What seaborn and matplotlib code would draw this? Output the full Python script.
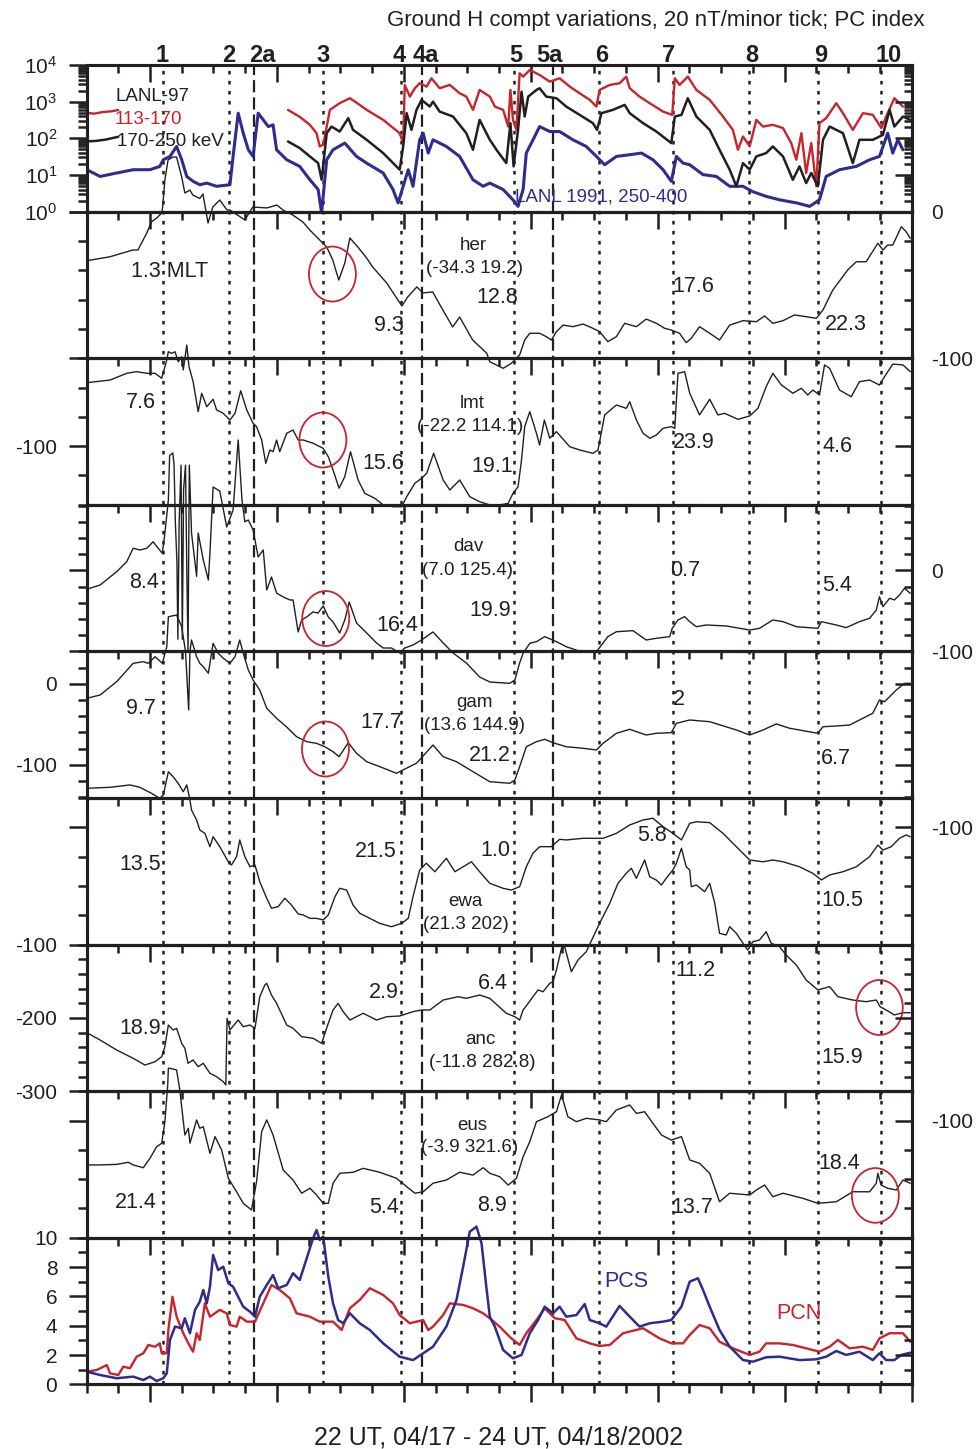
import matplotlib
matplotlib.use("Agg")
import matplotlib.pyplot as plt
from matplotlib.patches import Ellipse
from matplotlib.ticker import MultipleLocator, LogLocator, NullFormatter, FixedLocator
import numpy as np
import seaborn as sns

# ------------------------------------------------------------------
# Time axis: hours after 22 UT on 04/17/2002 (ends 24 UT on 04/18)
# ------------------------------------------------------------------
T_START, T_END = 0.0, 26.0

event_names = ["1", "2", "2a", "3", "4", "4a", "5", "5a", "6", "7", "8", "9", "10"]
event_times = [2.40, 4.50, 5.29, 7.44, 9.92, 10.57, 13.48, 14.70, 16.14, 18.48, 20.89, 23.06, 25.03]
event_label_times = [2.39, 4.47, 5.54, 7.46, 9.86, 10.69, 13.53, 14.60, 16.24, 18.35, 20.98, 23.13, 25.29]

# ------------------------------------------------------------------
# Energetic particle fluxes (LANL), (hours, flux)
# ------------------------------------------------------------------
lanl97_113_170_a = [(0.0, 494), (0.25, 470), (0.5, 520), (0.75, 540), (1.0, 590)]
lanl97_113_170 = [
    (6.35, 597), (6.72, 385), (7.04, 233), (7.25, 138), (7.35, 60), (7.46, 67), (7.57, 209), (7.67, 597),
    (7.98, 907), (8.30, 1241), (8.46, 1003), (8.83, 597), (9.35, 318), (9.87, 138), (9.98, 74), (10.03, 2860),
    (10.19, 1372), (10.35, 2323), (10.50, 3176), (10.72, 2570), (10.87, 4345), (11.13, 2323), (11.45, 2860),
    (11.76, 1698), (11.97, 1372), (12.18, 597), (12.39, 2089), (12.71, 1372), (12.87, 733), (13.13, 597),
    (13.29, 209), (13.36, 2089), (13.44, 318), (13.55, 170), (13.65, 5943), (13.76, 4808), (13.97, 7311),
    (14.28, 5346), (14.60, 3516), (14.91, 4345), (15.23, 2570), (15.54, 1698), (15.86, 1117), (16.07, 733),
    (16.17, 2089), (16.49, 2860), (16.80, 3176), (17.01, 4808), (17.12, 2323), (17.43, 1372), (17.75, 907),
    (18.17, 535), (18.46, 436), (18.54, 4345), (18.69, 2860), (18.95, 4808), (19.22, 2089), (19.64, 1117),
    (20.06, 392), (20.37, 170), (20.53, 48.6), (20.69, 112), (20.90, 60), (21.11, 318), (21.32, 209),
    (21.63, 233), (21.95, 190), (22.21, 74), (22.37, 26), (22.53, 138), (22.68, 11.3), (22.84, 74),
    (23.00, 4.9), (23.10, 259), (23.31, 355), (23.63, 907), (23.84, 485), (24.15, 170), (24.47, 485),
    (24.78, 436), (25.05, 190), (25.25, 485), (25.46, 1241), (25.73, 733),
]
lanl97_170_250_a = [(0.0, 82), (0.3, 85), (0.6, 92), (1.0, 110)]
lanl97_170_250 = [
    (6.35, 82), (6.72, 54), (7.04, 32), (7.30, 21), (7.41, 7.4), (7.57, 138), (7.72, 209), (7.98, 153),
    (8.25, 355), (8.40, 170), (8.83, 91), (9.35, 39.5), (9.87, 13.9), (9.98, 60), (10.09, 485), (10.24, 170),
    (10.40, 597), (10.56, 1117), (10.82, 733), (10.92, 1003), (11.13, 535), (11.55, 392), (11.97, 138),
    (12.18, 48.6), (12.39, 318), (12.71, 91), (12.92, 48.6), (13.23, 21), (13.36, 259), (13.46, 17.1),
    (13.60, 170), (13.71, 1877), (13.81, 392), (13.92, 1372), (14.18, 2089), (14.28, 2323), (14.49, 1372),
    (14.81, 1241), (15.12, 733), (15.54, 436), (15.96, 259), (16.09, 170), (16.23, 485), (16.59, 597),
    (16.96, 817), (17.12, 485), (17.54, 259), (17.96, 153), (18.43, 74), (18.54, 392), (18.75, 436),
    (18.95, 1241), (19.22, 392), (19.64, 170), (19.95, 48.6), (20.27, 13.9), (20.48, 4.9), (20.69, 21),
    (20.90, 13.9), (21.11, 32), (21.42, 39.5), (21.63, 60), (21.95, 32), (22.26, 7.4), (22.47, 17.1),
    (22.68, 6.0), (22.84, 11.3), (23.05, 4.9), (23.21, 91), (23.42, 209), (23.84, 138), (24.15, 21),
    (24.36, 91), (24.78, 91), (25.10, 124), (25.31, 597), (25.46, 209), (25.73, 392), (25.96, 318),
]
lanl91_250_400 = [
    (0.01, 13.9), (0.43, 9.1), (0.95, 11.3), (1.47, 13.9), (2.00, 13.9), (2.31, 17.1), (2.42, 26), (2.63, 32),
    (2.84, 60), (3.00, 26), (3.16, 9.1), (3.36, 6.7), (3.57, 5.4), (3.79, 6.0), (4.10, 4.9), (4.52, 5.4),
    (4.62, 32), (4.78, 485), (4.94, 138), (5.10, 48.6), (5.25, 32), (5.41, 485), (5.57, 318), (5.73, 209),
    (5.88, 233), (5.99, 48.6), (6.31, 26), (6.72, 17.1), (7.04, 7.4), (7.30, 4.0), (7.41, 0.92), (7.57, 26),
    (7.77, 48.6), (8.14, 74), (8.51, 32), (8.83, 21), (9.35, 11.3), (9.66, 4.0), (9.82, 1.73), (9.98, 4.9),
    (10.14, 13.9), (10.29, 4.9), (10.50, 91), (10.61, 138), (10.77, 39.5), (10.92, 91), (11.34, 60),
    (11.76, 32), (12.18, 7.4), (12.50, 4.9), (12.71, 6.0), (13.13, 4.0), (13.44, 2.1), (13.60, 1.39),
    (13.76, 4.0), (13.86, 39.5), (14.02, 74), (14.28, 209), (14.60, 153), (14.91, 153), (15.33, 91),
    (15.75, 60), (16.07, 32), (16.33, 19), (16.70, 32), (17.12, 35.6), (17.49, 39.5), (17.85, 26),
    (18.17, 13.9), (18.43, 6.7), (18.59, 32), (18.80, 21), (19.01, 19), (19.43, 10.2), (19.85, 9.1),
    (20.27, 4.9), (20.69, 4.9), (21.00, 3.5), (21.42, 2.6), (21.84, 2.1), (22.37, 1.73), (22.79, 1.39),
    (23.10, 2.1), (23.31, 9.1), (23.73, 13.9), (24.26, 17.1), (24.68, 26), (24.99, 32), (25.25, 138),
    (25.41, 39.5), (25.57, 91), (25.73, 48.6),
]

# ------------------------------------------------------------------
# Ground magnetometer H-component variations (hours, nT)
# ------------------------------------------------------------------
her = [
    (0.01, -33.5), (0.74, -30.8), (1.46, -26.2), (1.62, -26.2), (1.90, -14.6), (2.05, -6.9), (2.21, -4.4),
    (2.37, -1.0), (2.40, 3.1), (2.47, 21.6), (2.57, 35.2), (2.72, 37.2), (2.84, 37.2), (3.00, 23.6),
    (3.10, 12.7), (3.26, 14.7), (3.35, 11.3), (3.57, 9.0), (3.67, 12.0), (3.83, -7.8), (3.98, 3.1),
    (4.20, 7.9), (4.43, 1.1), (4.52, 1.1), (4.99, -5.7), (5.24, 3.1), (5.69, 2.5), (6.00, 4.5), (6.19, 1.1),
    (6.50, -2.3), (6.82, -7.1), (7.04, -12.6), (7.35, -19.4), (7.57, -24.1), (7.76, -33.0), (7.95, -46.7),
    (8.14, -35.1), (8.30, -18.0), (8.55, -24.1), (8.83, -31.7), (9.02, -37.8), (9.46, -48.7), (9.94, -64.4),
    (10.12, -58.3), (10.41, -51.4), (10.60, -55.5), (10.91, -54.8), (11.23, -67.1), (11.54, -78.7),
    (11.76, -71.9), (12.17, -87.6), (12.61, -96.5), (12.71, -102.4), (13.13, -106.9), (13.39, -103.5),
    (13.65, -97.8), (13.81, -87.6), (13.97, -83.0), (14.28, -83.0), (14.49, -85.3), (14.65, -87.6),
    (14.81, -81.9), (15.02, -77.4), (15.33, -78.5), (15.65, -76.7), (15.96, -79.6), (16.17, -81.9),
    (16.43, -88.7), (16.70, -85.3), (16.96, -76.2), (17.33, -78.5), (17.64, -73.3), (17.96, -76.2),
    (18.22, -79.6), (18.43, -80.8), (18.69, -83.0), (18.90, -89.4), (19.06, -86.4), (19.32, -78.5),
    (19.64, -83.0), (19.95, -87.6), (20.27, -77.4), (20.69, -74.4), (21.11, -75.1), (21.37, -71.2),
    (21.63, -76.2), (21.95, -74.4), (22.31, -70.5), (22.68, -71.7), (23.00, -72.8), (23.21, -67.1),
    (23.52, -53.5), (23.99, -39.8), (24.26, -34.2), (24.57, -34.2), (24.94, -21.6), (25.10, -26.2),
    (25.25, -22.8), (25.41, -22.8), (25.68, -10.3), (25.83, -13.7), (25.96, -18.2),
]
lmt = [
    (0.01, -56.7), (0.74, -54.9), (1.27, -50.3), (1.58, -49.2), (1.90, -50.3), (2.16, -50.3), (2.37, -53.7),
    (2.53, -41.2), (2.58, -35.6), (2.68, -36.7), (2.79, -35.6), (2.89, -42.4), (3.00, -39.0), (3.05, -48.0),
    (3.16, -31.0), (3.23, -45.8), (3.36, -56.0), (3.52, -76.5), (3.63, -63.9), (3.79, -73.1), (3.99, -68.0),
    (4.10, -75.3), (4.31, -77.6), (4.52, -82.2), (4.68, -77.6), (4.86, -62.2), (5.05, -75.3), (5.25, -84.4),
    (5.36, -86.7), (5.52, -95.8), (5.65, -111.7), (5.78, -102.6), (5.88, -103.8), (5.99, -95.8),
    (6.09, -103.8), (6.31, -91.2), (6.51, -89.0), (6.67, -95.8), (6.83, -95.8), (7.14, -98.0),
    (7.46, -101.5), (7.62, -107.2), (7.77, -116.3), (7.96, -128.7), (8.14, -120.8), (8.32, -103.8),
    (8.56, -123.1), (8.77, -132.2), (9.09, -135.6), (9.35, -140.1), (9.66, -141.3), (9.93, -141.3),
    (10.09, -134.5), (10.35, -125.3), (10.56, -121.9), (10.72, -118.5), (10.94, -104.9), (11.24, -123.1),
    (11.45, -129.9), (11.76, -123.1), (12.08, -134.5), (12.39, -137.9), (12.71, -140.1), (13.02, -140.1),
    (13.29, -139.0), (13.44, -132.2), (13.60, -127.7), (13.71, -109.4), (13.81, -86.7), (13.97, -76.5),
    (14.18, -91.2), (14.28, -99.2), (14.43, -82.2), (14.60, -94.6), (14.81, -90.1), (15.23, -100.4),
    (15.54, -102.6), (15.96, -104.9), (16.12, -102.6), (16.33, -78.7), (16.70, -71.9), (17.01, -74.2),
    (17.12, -69.7), (17.33, -82.2), (17.54, -91.2), (17.75, -94.6), (17.96, -92.4), (18.17, -87.8),
    (18.43, -86.7), (18.54, -87.8), (18.64, -50.3), (18.85, -49.2), (19.01, -63.9), (19.32, -78.7),
    (19.64, -68.0), (19.90, -78.7), (20.11, -77.6), (20.53, -81.7), (20.90, -79.4), (21.16, -74.2),
    (21.42, -59.4), (21.63, -50.3), (21.90, -58.3), (22.26, -63.9), (22.53, -60.5), (22.73, -65.1),
    (22.89, -61.7), (23.10, -65.1), (23.26, -44.6), (23.42, -46.9), (23.73, -61.7), (24.10, -66.3),
    (24.36, -56.0), (24.68, -54.9), (24.99, -58.3), (25.15, -52.6), (25.41, -44.0), (25.73, -44.6),
    (25.96, -49.2),
]
dav = [
    (0.01, -23.3), (0.43, -18.0), (0.95, -1.6), (1.27, 10.8), (1.47, 27.3), (1.69, 25.2), (1.90, 27.3),
    (2.10, 35.4), (2.26, 27.3), (2.39, 21.1), (2.47, 45.8), (2.58, 86.9), (2.62, 142.0), (2.72, 145.0),
    (2.76, 130.0), (2.80, 60.0), (2.85, 10.0), (2.88, -85.0), (2.92, 60.0), (2.98, 130.0), (3.02, -85.0),
    (3.06, 100.0), (3.12, 130.0), (3.16, 3.5), (3.20, -98.0), (3.24, 130.0), (3.31, 46.2), (3.47, -7.3),
    (3.52, 46.2), (3.68, 12.9), (3.84, -11.8), (3.89, 21.5), (3.99, 103.0), (4.20, 98.0), (4.42, 53.6),
    (4.62, 74.6), (4.78, 161.0), (4.90, 86.9), (4.99, 60.0), (5.10, 62.2), (5.25, 49.9), (5.41, 16.6),
    (5.57, 25.2), (5.68, -24.2), (5.83, -8.1), (5.99, -27.9), (6.20, -32.8), (6.41, -36.5), (6.51, -36.5),
    (6.67, -76.0), (6.78, -61.2), (6.94, -57.5), (7.14, -51.3), (7.30, -52.6), (7.46, -43.9), (7.62, -57.5),
    (7.77, -63.7), (7.98, -77.3), (8.14, -61.2), (8.28, -39.0), (8.51, -64.9), (8.83, -77.3), (9.14, -89.6),
    (9.35, -95.8), (9.61, -95.8), (9.87, -101.9), (10.03, -95.8), (10.29, -92.1), (10.56, -85.9),
    (10.92, -76.0), (11.24, -89.6), (11.55, -101.9), (11.97, -114.3), (12.39, -131.6), (12.71, -137.8),
    (13.34, -139.4), (13.50, -135.3), (13.65, -114.3), (13.76, -102.3), (13.97, -90.0), (14.18, -88.0),
    (14.44, -81.8), (14.81, -88.0), (15.12, -94.2), (15.49, -99.1), (16.07, -100.4), (16.43, -81.8),
    (16.70, -75.7), (17.22, -74.4), (17.64, -85.9), (17.96, -83.8), (18.38, -81.8), (18.46, -71.5),
    (18.64, -61.2), (18.85, -57.1), (19.01, -63.3), (19.22, -69.5), (19.53, -67.4), (20.16, -68.6),
    (20.90, -73.6), (21.21, -71.5), (21.63, -61.2), (21.95, -63.3), (22.37, -69.5), (23.05, -71.5),
    (23.16, -63.3), (23.63, -67.4), (23.94, -70.7), (24.36, -63.3), (24.68, -59.1), (24.89, -48.9),
    (24.99, -32.5), (25.10, -44.8), (25.31, -34.4), (25.46, -36.5), (25.62, -30.4), (25.78, -22.1),
    (25.96, -28.3),
]
gam = [
    (0.01, -17.9), (0.43, -13.8), (0.95, 2.6), (1.47, 25.3), (1.79, 27.3), (1.95, 25.3), (2.16, 33.5),
    (2.39, 25.3), (2.53, 45.8), (2.58, 82.8), (2.84, 84.9), (3.00, 70.5), (3.12, 40.0), (3.22, -32.3),
    (3.26, 40.0), (3.31, 54.1), (3.47, 33.5), (3.57, 25.3), (3.68, 21.1), (3.84, 13.0), (3.99, 50.0),
    (4.15, 37.7), (4.31, 31.5), (4.52, 25.3), (4.68, 33.5), (4.83, 54.1), (4.94, 37.7), (5.10, 17.0),
    (5.25, 4.7), (5.46, -7.7), (5.68, -30.2), (5.99, -42.6), (6.30, -53.0), (6.62, -65.3), (6.94, -71.5),
    (7.25, -73.5), (7.51, -77.7), (7.77, -83.8), (7.96, -90.0), (8.25, -72.7), (8.51, -85.8), (8.83, -96.2),
    (9.24, -102.3), (9.77, -110.5), (10.08, -104.3), (10.40, -98.1), (10.92, -75.6), (11.24, -90.0),
    (11.66, -96.2), (12.18, -108.5), (12.71, -120.9), (13.34, -122.8), (13.50, -118.8), (13.65, -102.3),
    (13.86, -77.7), (14.18, -71.5), (14.44, -68.5), (14.70, -72.7), (15.12, -77.7), (15.65, -79.6),
    (16.07, -81.7), (16.28, -73.5), (16.70, -61.1), (17.12, -56.2), (17.64, -63.2), (17.96, -61.1),
    (18.43, -60.4), (18.59, -48.8), (19.01, -44.7), (19.64, -46.8), (20.48, -57.0), (20.90, -63.2),
    (21.32, -57.0), (21.74, -49.6), (22.16, -54.9), (23.05, -61.1), (23.21, -53.0), (23.63, -52.1),
    (24.05, -50.9), (24.36, -44.7), (24.78, -36.4), (24.99, -20.0), (25.15, -22.1), (25.31, -15.9),
    (25.52, -7.7), (25.78, 0.6), (25.96, 0.6),
]
ewa = [
    (0.01, -73.4), (0.74, -72.7), (1.37, -71.1), (1.68, -72.7), (2.05, -76.8), (2.31, -80.2), (2.42, -78.0),
    (2.58, -62.1), (2.73, -65.5), (2.89, -70.0), (3.05, -75.7), (3.16, -71.1), (3.26, -81.4), (3.31, -88.2),
    (3.47, -95.0), (3.57, -101.8), (3.73, -104.1), (3.89, -113.2), (3.99, -106.4), (4.20, -113.2),
    (4.47, -123.5), (4.57, -125.7), (4.73, -120.0), (4.83, -108.6), (4.99, -120.0), (5.15, -126.9),
    (5.31, -125.7), (5.46, -137.1), (5.68, -148.4), (5.83, -155.2), (6.04, -154.1), (6.25, -148.4),
    (6.46, -153.0), (6.67, -159.1), (6.83, -159.8), (7.04, -162.1), (7.25, -162.1), (7.46, -163.2),
    (7.62, -159.8), (7.83, -147.3), (7.98, -141.6), (8.20, -142.8), (8.40, -153.0), (8.61, -158.6),
    (8.93, -162.1), (9.24, -165.5), (9.61, -167.8), (9.93, -165.5), (10.14, -162.1), (10.29, -147.3),
    (10.50, -129.1), (10.71, -124.5), (10.98, -130.3), (11.34, -121.1), (11.61, -130.3), (12.13, -123.5),
    (12.39, -130.3), (12.71, -138.2), (13.13, -141.6), (13.39, -142.8), (13.65, -140.5), (13.86, -126.9),
    (14.07, -117.7), (14.28, -113.2), (14.65, -113.2), (14.91, -108.2), (15.12, -108.6), (15.65, -107.5),
    (16.28, -107.5), (16.70, -104.1), (17.12, -98.4), (17.54, -95.0), (17.85, -93.8), (18.17, -99.6),
    (18.48, -104.1), (18.75, -108.6), (19.01, -97.3), (19.22, -96.2), (19.64, -96.8), (20.06, -104.1),
    (20.48, -113.2), (20.90, -122.3), (21.32, -123.5), (21.63, -122.3), (21.95, -123.5), (22.47, -126.9),
    (22.89, -131.4), (23.16, -135.9), (23.42, -132.5), (23.84, -130.3), (24.26, -126.9), (24.68, -120.0),
    (24.94, -112.1), (25.10, -115.5), (25.36, -113.2), (25.62, -107.5), (25.83, -105.2), (25.96, -106.4),
]
anc = [
    (0.01, -220.2), (0.43, -230.2), (0.95, -243.8), (1.47, -255.1), (1.84, -264.3), (2.16, -259.8),
    (2.37, -252.9), (2.47, -239.3), (2.58, -209.7), (2.73, -216.5), (2.84, -214.2), (3.00, -234.7),
    (3.10, -241.5), (3.20, -261.9), (3.36, -257.4), (3.52, -266.6), (3.68, -261.9), (3.89, -275.6),
    (4.10, -280.2), (4.31, -287.0), (4.39, -291.5), (4.43, -200.5), (4.52, -216.5), (4.78, -202.9),
    (4.94, -212.0), (5.15, -209.7), (5.31, -214.2), (5.46, -171.1), (5.62, -155.1), (5.68, -152.8),
    (5.83, -168.8), (5.99, -180.1), (6.31, -209.7), (6.51, -214.2), (6.78, -225.6), (7.14, -227.8),
    (7.41, -234.7), (7.62, -207.4), (7.77, -189.2), (7.93, -180.1), (8.09, -191.5), (8.30, -202.9),
    (8.72, -193.7), (9.14, -202.9), (9.46, -198.4), (9.87, -197.4), (10.29, -191.5), (10.56, -189.2),
    (10.82, -189.2), (11.24, -175.6), (11.71, -171.1), (11.97, -173.3), (12.39, -168.8), (12.71, -173.3),
    (13.23, -193.7), (13.50, -198.4), (13.65, -202.9), (13.76, -189.2), (13.92, -180.1), (14.07, -171.1),
    (14.23, -161.9), (14.39, -164.3), (14.60, -152.8), (14.70, -150.6), (14.81, -134.7), (14.97, -105.0),
    (15.07, -102.9), (15.28, -137.0), (15.49, -121.0), (15.75, -109.7), (16.17, -70.9), (16.49, -43.7),
    (16.75, -16.4), (17.01, -2.7), (17.17, 4.1), (17.33, -9.5), (17.59, 15.4), (17.75, -7.4),
    (17.96, -12.0), (18.12, -18.7), (18.27, -9.5), (18.48, 1.8), (18.59, 10.9), (18.75, 31.4), (18.90, 6.3),
    (19.01, 1.8), (19.06, -21.0), (19.22, -18.7), (19.48, -27.8), (19.64, -16.4), (19.80, -43.7),
    (19.95, -84.6), (20.16, -86.9), (20.27, -75.6), (20.48, -84.6), (20.69, -98.2), (20.84, -107.4),
    (21.00, -96.0), (21.21, -93.7), (21.42, -82.4), (21.58, -98.2), (21.84, -102.9), (22.05, -114.2),
    (22.37, -127.8), (22.68, -148.3), (23.05, -161.9), (23.42, -157.4), (23.68, -171.1), (24.15, -175.6),
    (24.57, -177.9), (24.89, -175.6), (25.01, -184.7), (25.20, -189.2), (25.46, -196.0), (25.73, -192.9),
    (25.96, -192.9),
]
eus = [
    (0.01, -130.3), (0.43, -130.3), (0.95, -129.9), (1.32, -128.5), (1.47, -130.3), (1.79, -132.2),
    (2.00, -125.8), (2.21, -117.9), (2.37, -115.5), (2.47, -100.8), (2.56, -75.8), (2.58, -64.4),
    (2.63, -64.4), (2.84, -65.5), (2.94, -79.2), (3.10, -109.9), (3.21, -105.3), (3.26, -115.5),
    (3.47, -99.6), (3.57, -105.3), (3.68, -104.2), (3.89, -122.4), (4.05, -111.0), (4.26, -120.1),
    (4.47, -139.4), (4.73, -148.6), (4.94, -156.5), (5.20, -161.0), (5.36, -141.7), (5.52, -107.6),
    (5.68, -99.6), (5.88, -109.9), (6.20, -133.8), (6.51, -140.6), (6.78, -149.6), (7.04, -146.2),
    (7.25, -150.8), (7.46, -156.5), (7.62, -156.5), (7.77, -142.8), (7.98, -136.0), (8.40, -135.3),
    (8.72, -132.6), (9.24, -135.3), (9.77, -139.4), (10.09, -145.1), (10.35, -149.6), (10.61, -148.6),
    (10.92, -142.8), (11.34, -140.6), (11.76, -135.3), (12.18, -137.2), (12.50, -132.2), (12.71, -136.0),
    (13.02, -138.3), (13.29, -144.0), (13.55, -139.4), (13.76, -124.7), (13.97, -114.4), (14.18, -100.8),
    (14.54, -97.4), (14.81, -94.0), (14.97, -82.6), (15.17, -97.4), (15.44, -100.8), (15.75, -98.5),
    (16.17, -99.6), (16.38, -100.8), (16.70, -92.8), (17.12, -89.4), (17.33, -95.1), (17.59, -94.0),
    (17.85, -101.9), (18.12, -109.9), (18.43, -113.3), (18.75, -111.0), (19.01, -126.9), (19.32, -129.2),
    (19.64, -136.0), (19.95, -155.4), (20.27, -149.6), (20.90, -150.8), (21.11, -147.4), (21.37, -144.0),
    (21.63, -152.0), (21.95, -149.6), (22.58, -153.1), (23.05, -156.5), (23.63, -155.4), (24.15, -148.6),
    (24.68, -148.6), (24.89, -142.8), (24.94, -136.0), (25.04, -144.0), (25.25, -146.2), (25.52, -147.4),
    (25.73, -140.6), (25.96, -142.8),
]

# ------------------------------------------------------------------
# Polar cap indices (hours, index)
# ------------------------------------------------------------------
pcn = [
    (0.01, 0.87), (0.32, 0.98), (0.64, 1.32), (0.74, 0.76), (1.00, 0.64), (1.16, 1.21), (1.37, 1.10),
    (1.58, 1.89), (1.79, 2.12), (1.95, 2.69), (2.16, 2.57), (2.31, 2.80), (2.37, 2.12), (2.53, 2.12),
    (2.58, 3.71), (2.71, 5.98), (2.84, 4.62), (3.05, 3.49), (3.21, 2.80), (3.36, 2.23), (3.47, 3.49),
    (3.57, 3.03), (3.73, 5.53), (3.89, 4.62), (4.20, 5.08), (4.42, 4.85), (4.52, 4.05), (4.73, 3.94),
    (4.83, 4.62), (5.05, 4.28), (5.31, 4.28), (5.57, 5.53), (5.83, 6.78), (6.09, 6.44), (6.41, 5.87),
    (6.62, 4.85), (7.04, 4.62), (7.35, 4.28), (7.77, 4.28), (8.04, 3.71), (8.30, 5.19), (8.61, 5.76),
    (8.93, 6.56), (9.35, 6.10), (9.66, 5.53), (9.87, 4.73), (10.19, 4.17), (10.61, 4.39), (10.77, 3.71),
    (10.92, 3.94), (11.24, 4.73), (11.45, 5.53), (11.87, 5.42), (12.18, 5.19), (12.50, 4.85), (12.71, 4.51),
    (13.02, 3.94), (13.39, 3.14), (13.65, 2.69), (13.86, 3.49), (14.18, 4.39), (14.44, 5.19), (14.76, 4.51),
    (15.07, 4.39), (15.44, 3.14), (15.86, 2.80), (16.17, 2.62), (16.49, 2.69), (16.91, 3.49), (17.54, 3.83),
    (18.06, 3.14), (18.43, 2.80), (18.80, 2.80), (19.01, 3.37), (19.32, 4.05), (19.64, 3.83), (19.95, 2.91),
    (20.37, 2.46), (20.90, 2.01), (21.21, 2.23), (21.42, 2.80), (21.84, 2.80), (22.26, 2.69), (22.68, 2.46),
    (23.10, 2.23), (23.42, 2.57), (23.68, 3.03), (24.05, 2.46), (24.47, 2.57), (24.78, 2.35), (24.99, 3.14),
    (25.31, 3.49), (25.73, 3.49), (25.96, 2.91),
]
pcs = [
    (0.01, 0.87), (0.43, 0.64), (0.95, 0.42), (1.47, 0.53), (1.79, 0.30), (2.00, 0.53), (2.21, 0.23),
    (2.42, 0.42), (2.53, 0.76), (2.63, 3.03), (2.79, 3.94), (3.00, 3.83), (3.10, 4.51), (3.26, 3.49),
    (3.42, 5.08), (3.57, 5.64), (3.68, 6.44), (3.79, 5.53), (3.89, 6.66), (3.99, 8.83), (4.15, 7.80),
    (4.31, 8.03), (4.47, 6.90), (4.62, 6.66), (4.78, 5.98), (4.94, 5.30), (5.15, 4.96), (5.31, 4.62),
    (5.46, 5.98), (5.68, 6.78), (5.88, 7.46), (6.04, 6.56), (6.31, 6.78), (6.51, 7.58), (6.72, 7.12),
    (6.94, 8.60), (7.14, 9.97), (7.25, 10.53), (7.35, 9.85), (7.46, 10.08), (7.62, 7.35), (7.77, 5.53),
    (7.93, 4.39), (8.09, 4.17), (8.30, 4.85), (8.61, 4.17), (8.93, 3.71), (9.35, 2.80), (9.87, 1.89),
    (10.29, 1.66), (10.61, 2.12), (10.92, 2.57), (11.34, 3.94), (11.66, 5.76), (11.87, 8.03), (12.08, 10.42),
    (12.29, 10.76), (12.45, 9.62), (12.60, 6.66), (12.71, 4.62), (12.87, 3.94), (13.13, 2.35), (13.44, 1.78),
    (13.71, 2.01), (13.97, 3.49), (14.23, 4.39), (14.44, 5.30), (14.70, 4.85), (14.91, 5.30), (15.12, 4.62),
    (15.44, 4.73), (15.70, 5.48), (15.86, 4.39), (16.17, 4.17), (16.38, 3.94), (16.80, 5.35), (17.12, 4.62),
    (17.43, 3.94), (17.75, 4.17), (18.17, 4.28), (18.43, 4.39), (18.75, 5.30), (19.01, 7.01), (19.27, 7.24),
    (19.43, 6.44), (19.64, 5.30), (19.95, 3.71), (20.27, 2.57), (20.69, 1.66), (21.00, 1.55), (21.42, 1.85),
    (21.84, 1.89), (22.47, 1.66), (22.99, 1.71), (23.31, 1.89), (23.63, 2.28), (23.94, 2.01), (24.36, 2.23),
    (24.78, 1.66), (24.99, 2.12), (25.20, 1.66), (25.46, 1.66), (25.68, 2.01), (25.96, 2.16),
]

# ------------------------------------------------------------------
# Station metadata
# ------------------------------------------------------------------
stations = ["her", "lmt", "dav", "gam", "ewa", "anc", "eus"]
station_series = [her, lmt, dav, gam, ewa, anc, eus]
station_coords = ["(-34.3 19.2)", "(-22.2 114.1)", "(7.0 125.4)", "(13.6 144.9)",
                  "(21.3 202)", "(-11.8 282.8)", "(-3.9 321.6)"]
station_ylims = [(-100, 0), (-140, -40), (-100, 81), (-141, 40), (-180, -80), (-300, -100), (-180, -80)]
station_label_side = ["right", "left", "right", "left", "right", "left", "right"]
station_name_pos = [(12.20, -22.8), (12.17, -71.2), (12.02, 30.1), (12.24, -22.5),
                    (11.95, -150.9), (12.42, -228.8), (12.17, -103.7)]
station_coord_pos = [(12.24, -38.5), (12.08, -86.9), (12.02, 0.5), (12.24, -50.9),
                     (11.95, -166.6), (12.46, -260.2), (12.08, -118.1)]

# local magnetic time at each station, written near the curve
mlt_labels = [
    [(2.61, -41.2, "1.3 MLT"), (9.53, -77.4, "9.3"), (12.93, -58.3, "12.8"), (19.13, -51.4, "17.6"), (23.94, -76.7, "22.3")],
    [(1.72, -69.9, "7.6"), (9.34, -111.5, "15.6"), (12.77, -114.2, "19.1"), (19.13, -97.2, "23.9"), (23.67, -99.9, "4.6")],
    [(1.81, -15.5, "8.4"), (9.81, -68.6, "16.4"), (12.71, -48.9, "19.9"), (18.88, -0.7, "0.7"), (23.67, -19.2, "5.4")],
    [(1.72, -29.9, "9.7"), (9.28, -47.2, "17.7"), (12.71, -89.1, "21.2"), (18.66, -18.8, "2"), (23.61, -92.8, "6.7")],
    [(1.69, -125.7, "13.5"), (9.12, -116.8, "21.5"), (12.87, -115.5, "1.0"), (17.81, -105.9, "5.8"), (23.82, -149.6, "10.5")],
    [(1.69, -215.1, "18.9"), (9.37, -166.0, "2.9"), (12.80, -152.4, "6.4"), (19.20, -134.7, "11.2"), (23.82, -254.7, "15.9")],
    [(1.56, -155.6, "21.4"), (9.37, -159.0, "5.4"), (12.77, -157.7, "8.9"), (19.10, -159.0, "13.7"), (23.73, -129.0, "18.4")],
]

# highlighted signatures: (station index, hour, nT, width in hours, height in nT)
highlights = [
    (0, 7.75, -42.6, 1.48, 37.5),
    (1, 7.45, -95.8, 1.48, 37.5),
    (2, 7.54, -59.4, 1.48, 67.9),
    (3, 7.53, -80.5, 1.48, 67.9),
    (5, 24.99, -185.8, 1.47, 75.0),
    (6, 24.86, -151.1, 1.48, 37.3),
]

# ------------------------------------------------------------------
# Styling
# ------------------------------------------------------------------
sns.set_style("ticks")
plt.rcParams["font.family"] = ["Liberation Sans", "DejaVu Sans"]
plt.rcParams["mathtext.fontset"] = "custom"
plt.rcParams["mathtext.rm"] = "Liberation Sans"
plt.rcParams["mathtext.it"] = "Liberation Sans:italic"
plt.rcParams["mathtext.bf"] = "Liberation Sans:bold"
plt.rcParams["axes.unicode_minus"] = False
plt.rcParams["lines.scale_dashes"] = False

INK = "#231f20"
RED = "#c8242c"
BLUE = "#2e2d8e"
TICK_FS = 15
MLT_FS = 15.5
STN_FS = 13.5

FIG_W, FIG_H = 977, 1449
LEFT_PX, RIGHT_PX = 86.5, 911.5
TOP_PX, PANEL_PX = 65.0, 146.6
N_PANELS = 9

major_hours = list(np.arange(2, 27, 4))
minor_hours = list(np.arange(0, 27, 1))


def panel_rect(i, n=1):
    top = TOP_PX + PANEL_PX * i
    bottom = top + PANEL_PX * n
    return [LEFT_PX / FIG_W, 1 - bottom / FIG_H, (RIGHT_PX - LEFT_PX) / FIG_W, PANEL_PX * n / FIG_H]


def style_panel(ax, side, ylim, log=False, major=None, minor=None):
    ax.patch.set_alpha(0)
    ax.set_xlim(T_START, T_END)
    ax.set_ylim(*ylim)
    for sp in ax.spines.values():
        sp.set_linewidth(2.2)
        sp.set_color(INK)
    ax.xaxis.set_major_locator(FixedLocator(major_hours))
    ax.xaxis.set_minor_locator(FixedLocator(minor_hours))
    ax.tick_params(axis="x", which="both", bottom=False, top=True, labelbottom=False,
                   labeltop=False, direction="in", width=1.8, color=INK)
    ax.tick_params(axis="x", which="major", length=12.5)
    ax.tick_params(axis="x", which="minor", length=6)

    twin = ax.twinx()
    twin.patch.set_alpha(0)
    if log:
        twin.set_yscale("log")
    twin.set_ylim(*ylim)
    for a in (ax, twin):
        a.set_xlim(T_START, T_END)
        if log:
            a.yaxis.set_major_locator(LogLocator(base=10, numticks=10))
            a.yaxis.set_minor_locator(LogLocator(base=10, subs=np.arange(2, 10), numticks=20))
            a.yaxis.set_minor_formatter(NullFormatter())
        else:
            a.yaxis.set_major_locator(MultipleLocator(major))
            a.yaxis.set_minor_locator(MultipleLocator(minor))
        for sp in a.spines.values():
            sp.set_linewidth(2.2)
            sp.set_color(INK)
    ax.tick_params(axis="y", which="both", left=True, right=False, direction="out",
                   labelleft=(side == "left"), labelright=False, width=1.8, color=INK,
                   labelsize=TICK_FS, pad=8, labelcolor=INK)
    ax.tick_params(axis="y", which="major", length=13)
    ax.tick_params(axis="y", which="minor", length=6.5)
    twin.tick_params(axis="y", which="both", left=False, right=True, direction="in",
                     labelleft=False, labelright=(side == "right"), width=1.8, color=INK,
                     labelsize=TICK_FS, pad=14, labelcolor=INK)
    twin.tick_params(axis="y", which="major", length=12.5)
    twin.tick_params(axis="y", which="minor", length=6)
    return twin


def draw(ax, series, color, lw, clip=False, zorder=3):
    t = [p[0] for p in series]
    v = [p[1] for p in series]
    sns.lineplot(x=t, y=v, ax=ax, color=color, linewidth=lw, estimator=None, sort=False,
                 legend=False, clip_on=clip, zorder=zorder)


fig = plt.figure(figsize=(FIG_W / 100, FIG_H / 100), dpi=100)

# event markers running through every panel
ax_ev = fig.add_axes(panel_rect(0, N_PANELS))
ax_ev.set_xlim(T_START, T_END)
ax_ev.set_ylim(0, 1)
ax_ev.axis("off")
for name, t in zip(event_names, event_times):
    if name.endswith("a"):
        ax_ev.axvline(t, color=INK, lw=1.6, dashes=(8.8, 3.6), zorder=1)
    else:
        ax_ev.axvline(t, color=INK, lw=1.8, dashes=(2.6, 4.6), zorder=1)

# --- particle panel ---
ax_p = fig.add_axes(panel_rect(0))
ax_p.set_yscale("log")
draw(ax_p, lanl91_250_400, BLUE, 2.2, clip=True)
draw(ax_p, lanl97_113_170_a, RED, 1.7, clip=True)
draw(ax_p, lanl97_113_170, RED, 1.7, clip=True)
draw(ax_p, lanl97_170_250_a, INK, 1.8, clip=True)
draw(ax_p, lanl97_170_250, INK, 1.8, clip=True)
style_panel(ax_p, "left", (1, 1e4), log=True)
ax_p.text(0.90, 1350, "LANL-97", color=INK, fontsize=13.5, ha="left", va="center")
ax_p.text(0.90, 335, "113-170", color=RED, fontsize=13.5, ha="left", va="center")
ax_p.text(0.95, 80, "170-250 keV", color=INK, fontsize=13.5, ha="left", va="center")
ax_p.text(13.51, 2.5, "LANL 1991, 250-400", color=BLUE, fontsize=13.5, ha="left", va="center")
for name, t in zip(event_names, event_label_times):
    ax_p.text(t, 1.0225, name, transform=ax_p.get_xaxis_transform(), fontsize=17,
              fontweight="bold", ha="center", va="baseline", color=INK)

# --- magnetometer panels ---
for i, (stn, series) in enumerate(zip(stations, station_series)):
    ax = fig.add_axes(panel_rect(i + 1))
    draw(ax, series, INK, 1.0, clip=False)
    style_panel(ax, station_label_side[i], station_ylims[i], major=100, minor=20)
    nx, ny = station_name_pos[i]
    ax.text(nx, ny, stn, fontsize=STN_FS, ha="center", va="center", color=INK)
    cx, cy = station_coord_pos[i]
    ax.text(cx, cy, station_coords[i], fontsize=STN_FS, ha="center", va="center", color=INK)
    for (t, v, s) in mlt_labels[i]:
        ax.text(t, v, s, fontsize=MLT_FS, ha="center", va="center", color=INK)
    for (k, t, v, w, h) in highlights:
        if k == i:
            ax.add_patch(Ellipse((t, v), w, h, fill=False, ec=RED, lw=1.3, clip_on=False, zorder=4))

# --- polar cap index panel ---
ax_pc = fig.add_axes(panel_rect(8))
draw(ax_pc, pcn, RED, 1.7)
draw(ax_pc, pcs, BLUE, 1.8)
style_panel(ax_pc, "left", (0, 10), major=2, minor=1)
ax_pc.text(17.02, 7.05, "PCS", color=BLUE, fontsize=15.5, ha="center", va="center")
ax_pc.text(22.44, 4.87, "PCN", color=RED, fontsize=15.5, ha="center", va="center")
sec = ax_pc.secondary_xaxis("bottom")
sec.xaxis.set_major_locator(FixedLocator(major_hours))
sec.xaxis.set_minor_locator(FixedLocator(minor_hours))
sec.tick_params(axis="x", which="both", direction="out", labelbottom=False, width=1.8, color=INK)
sec.tick_params(axis="x", which="major", length=13)
sec.tick_params(axis="x", which="minor", length=6.5)
sec.spines["bottom"].set_linewidth(2.2)

fig.text(925 / FIG_W, 1 - 26 / FIG_H, "Ground H compt variations, 20 nT/minor tick; PC index",
         fontsize=16, ha="right", va="baseline", color=INK)
fig.text(499 / FIG_W, 1 - 1445 / FIG_H, "22 UT, 04/17 - 24 UT, 04/18/2002",
         fontsize=18, ha="center", va="baseline", color=INK)

fig.savefig("out.png", dpi=100)
